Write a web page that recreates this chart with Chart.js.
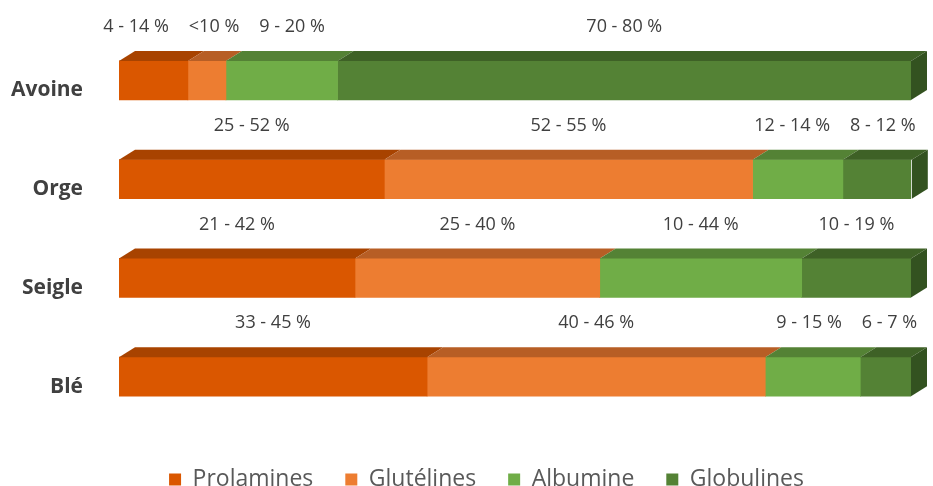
<!DOCTYPE html>
<html>
<head>
<meta charset="utf-8">
<script src="https://cdn.jsdelivr.net/npm/chart.js@4/dist/chart.umd.min.js"></script>
<style>
  html, body { margin: 0; padding: 0; background: #ffffff; }
  #wrap { width: 933px; height: 486px; }
</style>
</head>
<body>
<div id="wrap"><canvas id="c" width="933" height="486"></canvas></div>
<script>
// ---- data ----
const categories = ["Avoine", "Orge", "Seigle", "Blé"];
const seriesNames = ["Prolamines", "Glutélines", "Albumine", "Globulines"];
const prolamines = [8.7, 33.5, 29.8, 38.9];
const glutelines = [4.8, 46.5, 30.9, 42.7];
const albumine   = [14.1, 11.4, 25.5, 12.0];
const globulines = [72.4, 8.7, 13.8, 6.4];
const prolaminesLabels = ["4 - 14 %", "25 - 52 %", "21 - 42 %", "33 - 45 %"];
const glutelinesLabels = ["<10 %", "52 - 55 %", "25 - 40 %", "40 - 46 %"];
const albumineLabels   = ["9 - 20 %", "12 - 14 %", "10 - 44 %", "9 - 15 %"];
const globulinesLabels = ["70 - 80 %", "8 - 12 %", "10 - 19 %", "6 - 7 %"];

// ---- styles ----
const frontColors = ["#DA5700", "#ED7D31", "#70AD47", "#548235"];
const topColors   = ["#A84300", "#B75E25", "#548235", "#3E6126"];
const sideColor   = "#335220";
const DEPTH_X = 16, DEPTH_Y = 10;

const seriesValues = [prolamines, glutelines, albumine, globulines];
const seriesLabels = [prolaminesLabels, glutelinesLabels, albumineLabels, globulinesLabels];

const bar3d = {
  id: 'bar3d',
  afterDatasetsDraw(chart) {
    const ctx = chart.ctx;
    const n = chart.data.datasets.length;
    ctx.save();
    for (let i = 0; i < n; i++) {
      const meta = chart.getDatasetMeta(i);
      meta.data.forEach(el => {
        const p = el.getProps(['x', 'y', 'base', 'height'], true);
        const l = Math.min(p.base, p.x), r = Math.max(p.base, p.x);
        const t = p.y - p.height / 2, b = p.y + p.height / 2;
        ctx.fillStyle = topColors[i];
        ctx.beginPath();
        ctx.moveTo(l, t);
        ctx.lineTo(l + DEPTH_X, t - DEPTH_Y);
        ctx.lineTo(r + DEPTH_X, t - DEPTH_Y);
        ctx.lineTo(r, t);
        ctx.closePath();
        ctx.fill();
        if (i === n - 1) {
          ctx.fillStyle = sideColor;
          ctx.beginPath();
          ctx.moveTo(r, t);
          ctx.lineTo(r + DEPTH_X, t - DEPTH_Y);
          ctx.lineTo(r + DEPTH_X, b - DEPTH_Y);
          ctx.lineTo(r, b);
          ctx.closePath();
          ctx.fill();
        }
      });
    }
    ctx.restore();
  }
};

const rangeLabels = {
  id: 'rangeLabels',
  afterDraw(chart) {
    const ctx = chart.ctx;
    ctx.save();
    ctx.font = '18px "Open Sans"';
    ctx.fillStyle = '#404040';
    ctx.textAlign = 'center';
    ctx.textBaseline = 'middle';
    const n = chart.data.datasets.length;
    const rows = chart.data.labels.length;
    const minGap = 20;
    for (let j = 0; j < rows; j++) {
      const items = [];
      let topY = 0;
      for (let i = 0; i < n; i++) {
        const el = chart.getDatasetMeta(i).data[j];
        const p = el.getProps(['x', 'y', 'base', 'height'], true);
        const txt = seriesLabels[i][j];
        items.push({ txt, cx: (p.x + p.base) / 2, w: ctx.measureText(txt).width });
        topY = p.y - p.height / 2;
      }
      for (let it = 0; it < 30; it++) {
        for (let k = 0; k < items.length - 1; k++) {
          const a = items[k], b = items[k + 1];
          const gap = (b.cx - b.w / 2) - (a.cx + a.w / 2);
          if (gap < minGap) {
            const d = (minGap - gap) / 2;
            a.cx -= d; b.cx += d;
          }
        }
      }
      items.forEach(o => ctx.fillText(o.txt, o.cx, topY - 34));
    }
    ctx.restore();
  }
};

// legend placement: fixed band height below the plot, shifted into place
const LEGEND_BAND = 60, LEGEND_TOP = 436, LEGEND_SHIFT_X = 31;
const legendPlacer = {
  id: 'legendPlacer',
  beforeLayout(chart) {
    const lg = chart.legend;
    if (lg && !lg._fixedFit) {
      const orig = lg.fit.bind(lg);
      lg.fit = function () { orig(); this.height = LEGEND_BAND; };
      lg._fixedFit = true;
    }
  },
  afterLayout(chart) {
    const lg = chart.legend;
    if (!lg) return;
    const h = lg.bottom - lg.top;
    lg.top = LEGEND_TOP;
    lg.bottom = LEGEND_TOP + h;
    lg.left += LEGEND_SHIFT_X;
    lg.right += LEGEND_SHIFT_X;
  }
};

const datasets = seriesNames.map((name, i) => ({
  label: name,
  data: seriesValues[i],
  backgroundColor: frontColors[i],
  borderWidth: 0,
  barThickness: 39
}));

new Chart(document.getElementById('c'), {
  type: 'bar',
  data: { labels: categories, datasets },
  plugins: [bar3d, rangeLabels, legendPlacer],
  options: {
    indexAxis: 'y',
    responsive: false,
    animation: false,
    layout: { padding: { top: 31, right: 22, left: 0, bottom: 0 } },
    scales: {
      x: {
        stacked: true, min: 0, max: 100,
        display: false
      },
      y: {
        stacked: true,
        grid: { display: false },
        border: { display: false },
        ticks: {
          padding: 28,
          labelOffset: 10,
          color: '#404040',
          font: { family: '"Open Sans"', size: 21, weight: 'bold' }
        },
        afterFit: s => { s.width = 119; s.paddingTop = 0; s.paddingBottom = 0; }
      }
    },
    plugins: {
      legend: {
        position: 'bottom',
        labels: {
          boxWidth: 12, boxHeight: 12, padding: 32,
          color: '#595959',
          font: { family: '"Open Sans"', size: 23 }
        }
      },
      tooltip: { enabled: false }
    }
  }
});
</script>
</body>
</html>
